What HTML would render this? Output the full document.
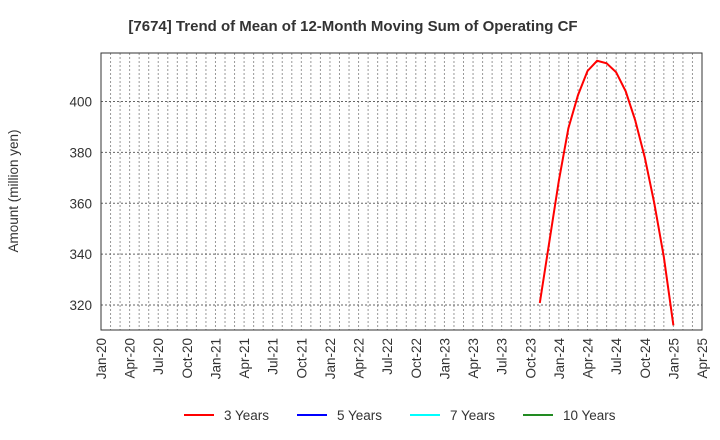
<!DOCTYPE html>
<html><head><meta charset="utf-8"><style>body{margin:0;background:#fff}svg{display:block;font-family:"Liberation Sans",sans-serif}</style></head>
<body>
<svg id="chart" width="720" height="440">
<text x="353" y="31" text-anchor="middle" font-size="15" font-weight="bold" fill="#333">[7674]  Trend of Mean of 12-Month Moving Sum of Operating CF</text>
<text transform="translate(18,191) rotate(-90)" text-anchor="middle" font-size="13.5" fill="#333">Amount (million yen)</text>
<g id="grid"></g><g id="series"></g>
<rect x="101" y="53" width="601" height="277" fill="none" stroke="#333" stroke-width="1"/>
<g id="legend"></g>
</svg>
<script>
const yTicks=[320,340,360,380,400];
const xLabels=["Jan-20","Apr-20","Jul-20","Oct-20","Jan-21","Apr-21","Jul-21","Oct-21","Jan-22","Apr-22","Jul-22","Oct-22","Jan-23","Apr-23","Jul-23","Oct-23","Jan-24","Apr-24","Jul-24","Oct-24","Jan-25","Apr-25"];
const startMonth3y=46;
const values3y=[320.8,345,369,389.5,402.5,412,416,415,411.5,404,392.6,378,360,339,312];
const legendNames=["3 Years","5 Years","7 Years","10 Years"];
const legendColors=["#ff0000","#0000ff","#00ffff","#228b22"];
const NS="http://www.w3.org/2000/svg";
const L=101,R=702,T=53,B=330,months=63;
const xs=m=>L+m*(R-L)/months;
const ys=v=>101.5+(400-v)*(305-101.5)/80;
function mk(t,a,p){const e=document.createElementNS(NS,t);for(const k in a)e.setAttribute(k,a[k]);p.appendChild(e);return e;}
const g=document.getElementById('grid');
for(let m=1;m<months;m++){const l=mk('line',{x1:xs(m),x2:xs(m),y1:T,y2:B,stroke:'#999','stroke-dasharray':'2,2','stroke-width':1},g);

}
yTicks.forEach(v=>{const l=mk('line',{x1:L,x2:R,y1:ys(v),y2:ys(v),stroke:'#666','stroke-dasharray':'2,2','stroke-width':1},g);


const t=mk('text',{x:L-9,y:ys(v)+5,'text-anchor':'end','font-size':13.5,fill:'#333'},g);t.textContent=v;

});
xLabels.forEach((s,i)=>{const x=xs(i*3);const t=mk('text',{transform:`translate(${x+5},338) rotate(-90)`,'text-anchor':'end','font-size':13.5,fill:'#333'},g);t.textContent=s;

});
const pts=values3y.map((v,i)=>xs(startMonth3y+i).toFixed(1)+','+ys(v).toFixed(1)).join(' ');
const pl=mk('polyline',{points:pts,fill:'none',stroke:'#ff0000','stroke-width':2},document.getElementById('series'));


const lg=document.getElementById('legend');
legendNames.forEach((n,i)=>{const x0=184+i*113;const e=mk('g',{},lg);


mk('line',{x1:x0,x2:x0+30,y1:415,y2:415,stroke:legendColors[i],'stroke-width':2},e);
const t=mk('text',{x:x0+40,y:420,'font-size':13.5,fill:'#333'},e);t.textContent=n;});
</script>
</body></html>
